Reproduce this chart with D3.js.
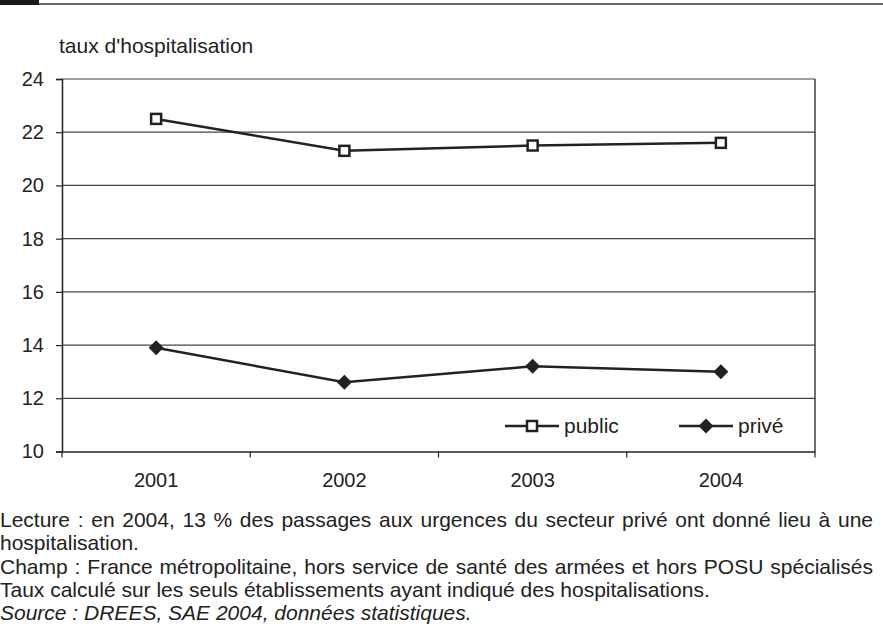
<!DOCTYPE html>
<html><head><meta charset="utf-8">
<script src="https://cdn.jsdelivr.net/npm/d3@7"></script>
<style>body{margin:0;background:#fff}svg{display:block}text{font-family:"Liberation Sans",Arial,sans-serif;fill:#222}</style>
</head><body>
<svg id="c" width="883" height="641"></svg>
<script>
const years = ["2001","2002","2003","2004"];
const publicValues = [22.5, 21.3, 21.5, 21.6];
const priveValues = [13.9, 12.6, 13.2, 13.0];
const yTicks = [10,12,14,16,18,20,22,24];
const yTitle = "taux d'hospitalisation";
const seriesNames = ["public","privé"];
const notes = [
 {t:"Lecture : en 2004, 13 % des passages aux urgences du secteur privé ont donné lieu à une", i:false, j:true},
 {t:"hospitalisation.", i:false, j:false},
 {t:"Champ : France métropolitaine, hors service de santé des armées et hors POSU spécialisés", i:false, j:true},
 {t:"Taux calculé sur les seuls établissements ayant indiqué des hospitalisations.", i:false, j:false},
 {t:"Source : DREES, SAE 2004, données statistiques.", i:true, j:false}
];

const svg = d3.select("#c");
const L=62, R=815, T=79, B=451.5;
const x = d3.scaleBand().domain(years).range([L,R]);
const y = d3.scaleLinear().domain([10,24]).range([B,T]);
const ink="#222";
const FS=21;

// header bar
svg.append("rect").attr("x",0).attr("y",0).attr("width",39).attr("height",5).attr("fill","#1a1a1a");
svg.append("line").attr("x1",39).attr("x2",883).attr("y1",4).attr("y2",4).attr("stroke","#333").attr("stroke-width",1.3);

// gridlines
svg.append("g").selectAll("line").data(yTicks.filter(d=>d>10)).join("line")
 .attr("x1",L).attr("x2",R).attr("y1",d=>y(d)).attr("y2",d=>y(d))
 .attr("stroke","#444").attr("stroke-width",1.2);
// right border
svg.append("line").attr("x1",R).attr("x2",R).attr("y1",T).attr("y2",B).attr("stroke",ink).attr("stroke-width",1.3);

// y axis
const ya = svg.append("g").attr("transform",`translate(${L},0)`)
 .call(d3.axisLeft(y).tickValues(yTicks).tickSize(6).tickPadding(12));
ya.select(".domain").attr("stroke",ink).attr("stroke-width",1.5);
ya.selectAll(".tick line").attr("stroke",ink).attr("stroke-width",1.2);
ya.selectAll("text").attr("font-size",20).attr("fill",ink).style("font-family","Liberation Sans, Arial");

// x axis
const xa = svg.append("g").attr("transform",`translate(0,${B})`)
 .call(d3.axisBottom(x).tickSize(0).tickPadding(21));
xa.select(".domain").attr("stroke",ink).attr("stroke-width",1.5);
xa.selectAll("text").attr("font-size",20).attr("fill",ink).style("font-family","Liberation Sans, Arial");
const bounds = years.map(d=>x(d)).concat([R]);
svg.append("g").selectAll("line").data(bounds).join("line")
 .attr("x1",d=>d).attr("x2",d=>d).attr("y1",B).attr("y2",B+6).attr("stroke",ink).attr("stroke-width",1.2);

// y title
svg.append("text").attr("x",59).attr("y",53).attr("font-size",FS).text(yTitle);

const cx = d=>x(d)+x.bandwidth()/2;
const line = d3.line().x((d,i)=>cx(years[i])).y(d=>y(d));
const sq = 10, dm = 7.5;
function square(g, px, py){ g.append("rect").attr("x",px-sq/2).attr("y",py-sq/2).attr("width",sq).attr("height",sq).attr("fill","#fff").attr("stroke",ink).attr("stroke-width",2.5); }
function diamond(g, px, py){ g.append("path").attr("d",`M${px},${py-dm}L${px+dm},${py}L${px},${py+dm}L${px-dm},${py}Z`).attr("fill",ink); }

svg.append("path").datum(publicValues).attr("d",line).attr("fill","none").attr("stroke",ink).attr("stroke-width",2.5);
svg.append("path").datum(priveValues).attr("d",line).attr("fill","none").attr("stroke",ink).attr("stroke-width",2.5);
const mg = svg.append("g");
publicValues.forEach((v,i)=>square(mg,cx(years[i]),y(v)));
priveValues.forEach((v,i)=>diamond(mg,cx(years[i]),y(v)));

// legend
const ly = 426;
const lg = svg.append("g");
[[505,seriesNames[0],square],[679,seriesNames[1],diamond]].forEach(([lx,name,fn])=>{
  lg.append("line").attr("x1",lx).attr("x2",lx+54).attr("y1",ly).attr("y2",ly).attr("stroke",ink).attr("stroke-width",2.5);
  fn(lg,lx+27,ly);
  lg.append("text").attr("x",lx+59).attr("y",ly+7).attr("font-size",FS).text(name);
});

// notes
const ng = svg.append("g");
notes.forEach((n,i)=>{
  const t = ng.append("text").attr("x",0).attr("y",527+i*23.3).attr("font-size",FS)
   .attr("font-style",n.i?"italic":"normal").text(n.t);
  if(n.j){
    const w = t.node().getComputedTextLength();
    const spaces = (n.t.match(/ /g)||[]).length;
    const target = 873;
    if(w<target && spaces>0) t.attr("word-spacing",(target-w)/spaces);
  }
});
</script>
</body></html>
